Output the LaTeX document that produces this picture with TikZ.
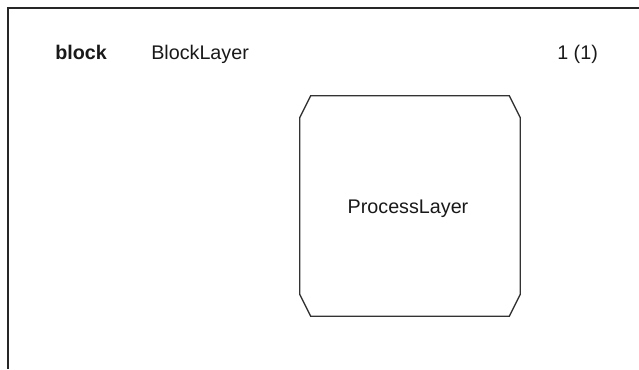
\documentclass[tikz,border=0pt]{standalone}
\usepackage{fontspec}
\setmainfont{Liberation Sans}
\usetikzlibrary{calc}
\begin{document}
\begin{tikzpicture}[x=0.75pt,y=-0.75pt,
  frameline/.style={draw=black!85,line width=1pt},
  blockshape/.style={draw=black!80,line width=1pt,line join=miter},
  lbl/.style={inner sep=0pt,font=\fontsize{14.8pt}{17pt}\selectfont,text=black!90}]
  \useasboundingbox (0,0) rectangle (639,369);
  % diagram frame (open at right and bottom)
  \coordinate (fr) at (639,8);
  \coordinate (fb) at (8,369);
  \coordinate (fc) at (8,8);
  \draw[frameline] (fr) -- (fc) -- (fb);
  % header
  \node[lbl,anchor=base west,font=\fontsize{14.8pt}{17pt}\selectfont\bfseries] (kind) at (55,59) {block};
  \node[lbl,anchor=base west] (name) at (151,59) {BlockLayer};
  \node[lbl,anchor=base west] (page) at (557,59) {1 (1)};
  % process block with chamfered corners
  \node[minimum width=220*0.75pt,minimum height=220*0.75pt,inner sep=0pt] (proc) at (410,206) {};
  \draw[blockshape]
    ($(proc.north west)+(11,0)$) -- ($(proc.north east)+(-11,0)$)
    -- ($(proc.north east)+(0,22)$) -- ($(proc.south east)+(0,-22)$)
    -- ($(proc.south east)+(-11,0)$) -- ($(proc.south west)+(11,0)$)
    -- ($(proc.south west)+(0,-22)$) -- ($(proc.north west)+(0,22)$) -- cycle;
  \node[lbl,anchor=base] (proclabel) at (408,213) {ProcessLayer};
\end{tikzpicture}
\end{document}
